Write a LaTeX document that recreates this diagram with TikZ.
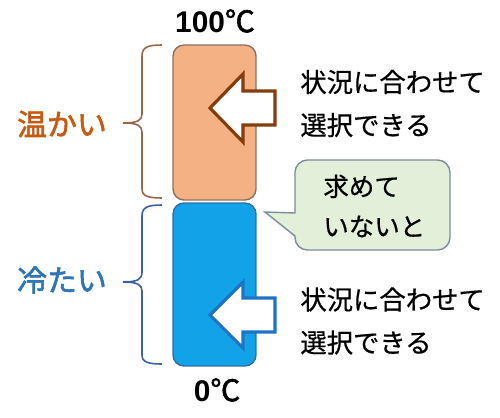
\documentclass[tikz,border=0pt]{standalone}
\usepackage{fontspec}
\setmainfont{Liberation Sans}
\newfontfamily\jp[AutoFakeBold=2]{Noto Sans CJK JP}
\newfontfamily\jpm[FakeBold=0.6]{Noto Sans CJK JP}
\usepackage{xcolor}
\usetikzlibrary{positioning,calc}
\definecolor{hotfill}{HTML}{F4B183}
\definecolor{hotline}{RGB}{140,112,98}
\definecolor{coldfill}{RGB}{18,162,232}
\definecolor{coldline}{RGB}{45,110,170}
\definecolor{hotarrow}{HTML}{843C0C}
\definecolor{coldarrow}{HTML}{1F72C4}
\definecolor{hottext}{HTML}{C55A11}
\definecolor{coldtext}{HTML}{2E75B6}
\definecolor{hotbrace}{RGB}{150,105,75}
\definecolor{coldbrace}{RGB}{60,95,170}
\definecolor{notefill}{HTML}{E2F0D9}
\definecolor{noteline}{RGB}{125,140,160}
\tikzset{
  tube/.style={rectangle,draw,line width=0.8pt,rounded corners=0.22cm,minimum width=1.66cm},
  blockarrow/.style={line width=1.8pt,fill=white,line join=miter},
  brace/.style={line width=0.9pt},
  side/.style={font=\jp\bfseries\fontsize{17}{20}\selectfont},
  remark/.style={anchor=west,align=left,inner sep=0pt,font=\jpm\fontsize{15}{24.5}\selectfont},
  temp/.style={font=\bfseries\fontsize{17}{19}\selectfont,inner sep=0pt}
}
\begin{document}
\begin{tikzpicture}[x=0.02cm,y=-0.02cm]
    \useasboundingbox (0,0) rectangle (500,417);
    % the two halves of the tube
    \node[tube,fill=hotfill,draw=hotline,minimum height=3.1cm] (hot) at (214.5,122.5) {};
    \node[tube,fill=coldfill,draw=coldline,minimum height=3.26cm] (cold) at (214.5,284.5) {};
    \node[temp] (tmax) at (215,21) {100{\jp\bfseries ℃}};
    \node[temp] (tmin) at (217,390) {0{\jp\bfseries ℃}};

    % braces and side labels
    \draw[brace,draw=hotbrace] (162,45) .. controls (148,45) and (142,47) .. (142,56) -- (142,114)
        .. controls (142,120) and (138,123) .. (123,123)
        .. controls (138,123) and (142,126) .. (142,132) -- (142,189)
        .. controls (142,196) and (148,198) .. (162,198);
    \draw[brace,draw=coldbrace] (162,205) .. controls (148,205) and (142,207) .. (142,216) -- (142,272)
        .. controls (142,279) and (138,282) .. (123,282)
        .. controls (138,282) and (142,285) .. (142,291) -- (142,355)
        .. controls (142,362) and (148,364) .. (162,364);
    \node[side,text=hottext] (warm) at (62,124) {温かい};
    \node[side,text=coldtext] (cool) at (62,280) {冷たい};

    % block arrows
    \draw[blockarrow,draw=hotarrow] (210,108) -- (243,74) -- (243,91) -- (275,91)
        -- (275,125) -- (243,125) -- (243,142) -- cycle;
    \draw[blockarrow,draw=coldarrow] (210,315) -- (243,282) -- (243,298) -- (275,298)
        -- (275,332) -- (243,332) -- (243,348) -- cycle;
    \node[remark] (choosehot) at (300,103.5) {状況に合わせて\\選択できる};
    \node[remark] (choosecold) at (300,321) {状況に合わせて\\選択できる};

    % callout
    \draw[line width=0.8pt,draw=noteline,fill=notefill] (295,213) -- (265,212) -- (295,236)
        [rounded corners=0.25cm] -- (295,250) -- (450,250) -- (450,160) -- (295,160) -- (295,200)
        [sharp corners] -- cycle;
    \node[remark,font=\jpm\fontsize{14.5}{22.8}\selectfont] (note) at (323,206) {求めて\\いないと};
\end{tikzpicture}
\end{document}
